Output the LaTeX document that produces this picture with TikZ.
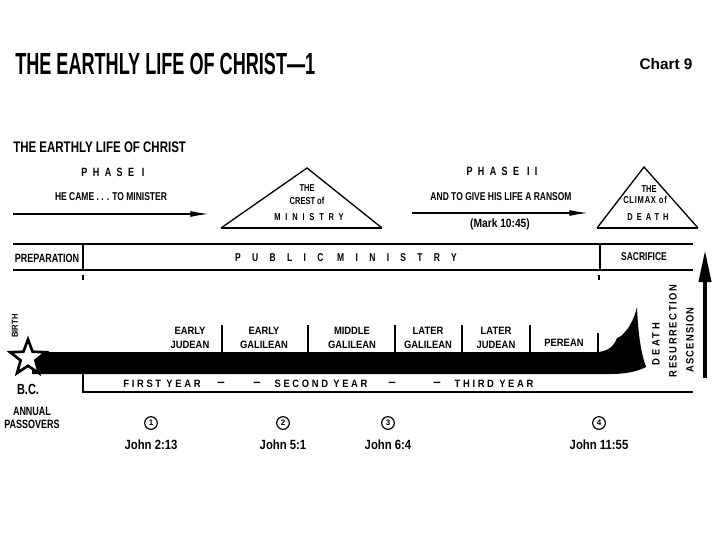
\documentclass[tikz,border=0pt]{standalone}
\usepackage{graphicx}
\usepackage{fontspec}
\setmainfont{Liberation Sans}
\newfontfamily\condfont{Liberation Sans}[FakeStretch=0.75]
\newfontfamily\semifont{Liberation Sans}[FakeStretch=0.88]
\newfontfamily\refont{Liberation Sans}[FakeStretch=0.85]
\usetikzlibrary{positioning, arrows.meta, shapes.geometric}

\begin{document}
\begin{tikzpicture}[
    x=0.75pt, y=-0.75pt,
    caplbl/.style={inner sep=0pt, font=\condfont\bfseries\fontsize{8.5}{9}\selectfont},
    spaced/.style={inner sep=0pt, font=\condfont\bfseries\fontsize{9}{10}\selectfont\addfontfeature{LetterSpace=45}},
    trilbl/.style={inner sep=0pt, font=\condfont\bfseries\fontsize{7.5}{8}\selectfont},
    period/.style={inner sep=0pt, align=center, font=\semifont\bfseries\fontsize{8}{10.5}\selectfont},
    yearlbl/.style={inner sep=0pt, font=\semifont\bfseries\fontsize{8}{9}\selectfont\addfontfeature{LetterSpace=25}},
    yeardash/.style={inner sep=0pt, font=\bfseries\fontsize{10}{10}\selectfont},
    event/.style={inner sep=0pt, rotate=90, font=\semifont\bfseries\fontsize{8}{9}\selectfont},
    passover/.style={circle, draw, line width=0.9pt, inner sep=0pt, minimum size=9.5pt,
        font=\bfseries\fontsize{6}{6}\selectfont},
    verse/.style={inner sep=0pt, font=\refont\bfseries\fontsize{10}{11}\selectfont},
    rule/.style={line width=1.6pt},
    divider/.style={line width=1pt},
    tri/.style={line width=1pt, line join=miter},
    phase/.style={line width=1pt, -{Latex[length=14pt, width=4.5pt]}}
]
\useasboundingbox (0,0) rectangle (720,540);

% titles
\node[anchor=west, inner sep=0pt] (title) at (15,64)
    {\resizebox{225pt}{16pt}{\condfont\bfseries THE EARTHLY LIFE OF CHRIST—1}};
\node[inner sep=0pt, font=\bfseries\fontsize{11.5}{12}\selectfont] (chartno) at (666,64) {Chart 9};
\node[anchor=west, inner sep=0pt, font=\condfont\bfseries\fontsize{11.5}{12}\selectfont] (heading)
    at (13,147) {THE EARTHLY LIFE OF CHRIST};

% phase I
\node[spaced] (phaseone) at (113,172) {PHASE I};
\node[caplbl] (phaseonetxt) at (111,197) {HE CAME . . . TO MINISTER};
\coordinate (p1start) at (13,214);
\coordinate (p1end) at (209,214);
\draw[phase] (p1start) -- (p1end);

% crest of ministry
\coordinate (crestL) at (221,228);
\coordinate (crestT) at (307,168);
\coordinate (crestR) at (382,228);
\draw[tri] (crestL) -- (crestT) -- (crestR);
\draw[line width=1.5pt] (crestL) -- (crestR);
\node[trilbl] (crest1) at (307,188) {THE};
\node[trilbl] (crest2) at (307,201) {CREST of};
\node[trilbl] (crest3) at (309,217) {\addfontfeature{LetterSpace=48}MINISTRY};

% phase II
\node[spaced] (phasetwo) at (502,171) {PHASE II};
\node[caplbl] (phasetwotxt) at (501,197) {AND TO GIVE HIS LIFE A RANSOM};
\coordinate (p2start) at (412,213);
\coordinate (p2end) at (588,213);
\draw[phase] (p2start) -- (p2end);
\node[inner sep=0pt, font=\refont\bfseries\fontsize{9}{10}\selectfont] (mark) at (500,224) {(Mark 10:45)};

% climax of death
\coordinate (climaxL) at (597,228);
\coordinate (climaxT) at (644,167);
\coordinate (climaxR) at (698,228);
\draw[tri] (climaxL) -- (climaxT) -- (climaxR);
\draw[line width=1.5pt] (climaxL) -- (climaxR);
\node[trilbl] (climax1) at (649,189) {THE};
\node[trilbl] (climax2) at (645,200) {\addfontfeature{LetterSpace=8}CLIMAX of};
\node[trilbl] (climax3) at (648,217) {\addfontfeature{LetterSpace=40}DEATH};

% main band
\draw[rule] (13,244) -- (693,244);
\draw[rule] (13,270) -- (693,270);
\draw[divider] (83,244) -- (83,270);
\draw[divider] (600,244) -- (600,270);
\draw[divider] (83,275) -- (83,280);
\draw[divider] (599,275) -- (599,280);
\node[caplbl, font=\condfont\bfseries\fontsize{9}{10}\selectfont] (prep) at (47,258) {PREPARATION};
\node[caplbl, font=\condfont\bfseries\fontsize{8.5}{9}\selectfont\addfontfeature{LetterSpace=100}]
    (ministry) at (346,258) {PUBLIC MINISTRY};
\node[caplbl] (sacrifice) at (644,257) {SACRIFICE};

% life line
\fill (32,352) -- (596,352) .. controls (608,352) and (614,346) .. (617,338)
    -- (621,336) .. controls (628,330) and (634,320) .. (637,307)
    .. controls (638,330) and (640,350) .. (646,367)
    .. controls (636,372) and (625,374) .. (610,374) -- (32,374) -- cycle;
\node[star, star points=5, star point ratio=2.4, draw, fill=white, line width=2pt,
    minimum size=28pt, inner sep=0pt] (birthstar) at (28,358) {};
\node[event, font=\semifont\bfseries\fontsize{6.5}{7}\selectfont] (birth) at (15,326) {BIRTH};
\node[inner sep=0pt, font=\condfont\bfseries\fontsize{11}{12}\selectfont] (bc) at (28,389) {B.C.};
\node[inner sep=0pt, align=center, font=\condfont\bfseries\fontsize{9}{9.75}\selectfont]
    (annual) at (32,418) {ANNUAL\\PASSOVERS};

% periods
\foreach \x in {222,308,395,462,530} \draw[divider] (\x,325) -- (\x,352);
\draw[divider] (598,333) -- (598,352);
\node[period] (earlyjud) at (190,338) {EARLY\\JUDEAN};
\node[period] (earlygal) at (264,338) {EARLY\\GALILEAN};
\node[period] (middlegal) at (352,338) {MIDDLE\\GALILEAN};
\node[period] (latergal) at (428,338) {LATER\\GALILEAN};
\node[period] (laterjud) at (496,338) {LATER\\JUDEAN};
\node[period] (perean) at (564,343) {PEREAN};

% years
\draw[line width=1.5pt] (83,374) -- (83,392) -- (693,392);
\node[yearlbl] (year1) at (162,384) {FIRST YEAR};
\node[yeardash] (dash1) at (221,384) {–};
\node[yeardash] (dash2) at (257,384) {–};
\node[yearlbl] (year2) at (321,384) {SECOND YEAR};
\node[yeardash] (dash3) at (392,384) {–};
\node[yeardash] (dash4) at (437,384) {–};
\node[yearlbl] (year3) at (494,384) {THIRD YEAR};

% end events
\node[event] (death) at (656,344) {\addfontfeature{LetterSpace=25}DEATH};
\node[event] (resurrection) at (673,331) {\addfontfeature{LetterSpace=15}RESURRECTION};
\node[event] (ascension) at (690,340) {\addfontfeature{LetterSpace=10}ASCENSION};
\coordinate (ascbot) at (705,378);
\coordinate (asctop) at (705,250);
\draw[line width=3pt, -{Triangle[length=24pt, width=9pt]}] (ascbot) -- (asctop);

% passovers
\node[passover] (pass1) at (151,423) {1};
\node[passover] (pass2) at (283,423) {2};
\node[passover] (pass3) at (388,423) {3};
\node[passover] (pass4) at (599,423) {4};
\node[verse, below=7pt of pass1] (john1) {John 2:13};
\node[verse, below=7pt of pass2] (john2) {John 5:1};
\node[verse, below=7pt of pass3] (john3) {John 6:4};
\node[verse, below=7pt of pass4] (john4) {John 11:55};

\end{tikzpicture}
\end{document}
